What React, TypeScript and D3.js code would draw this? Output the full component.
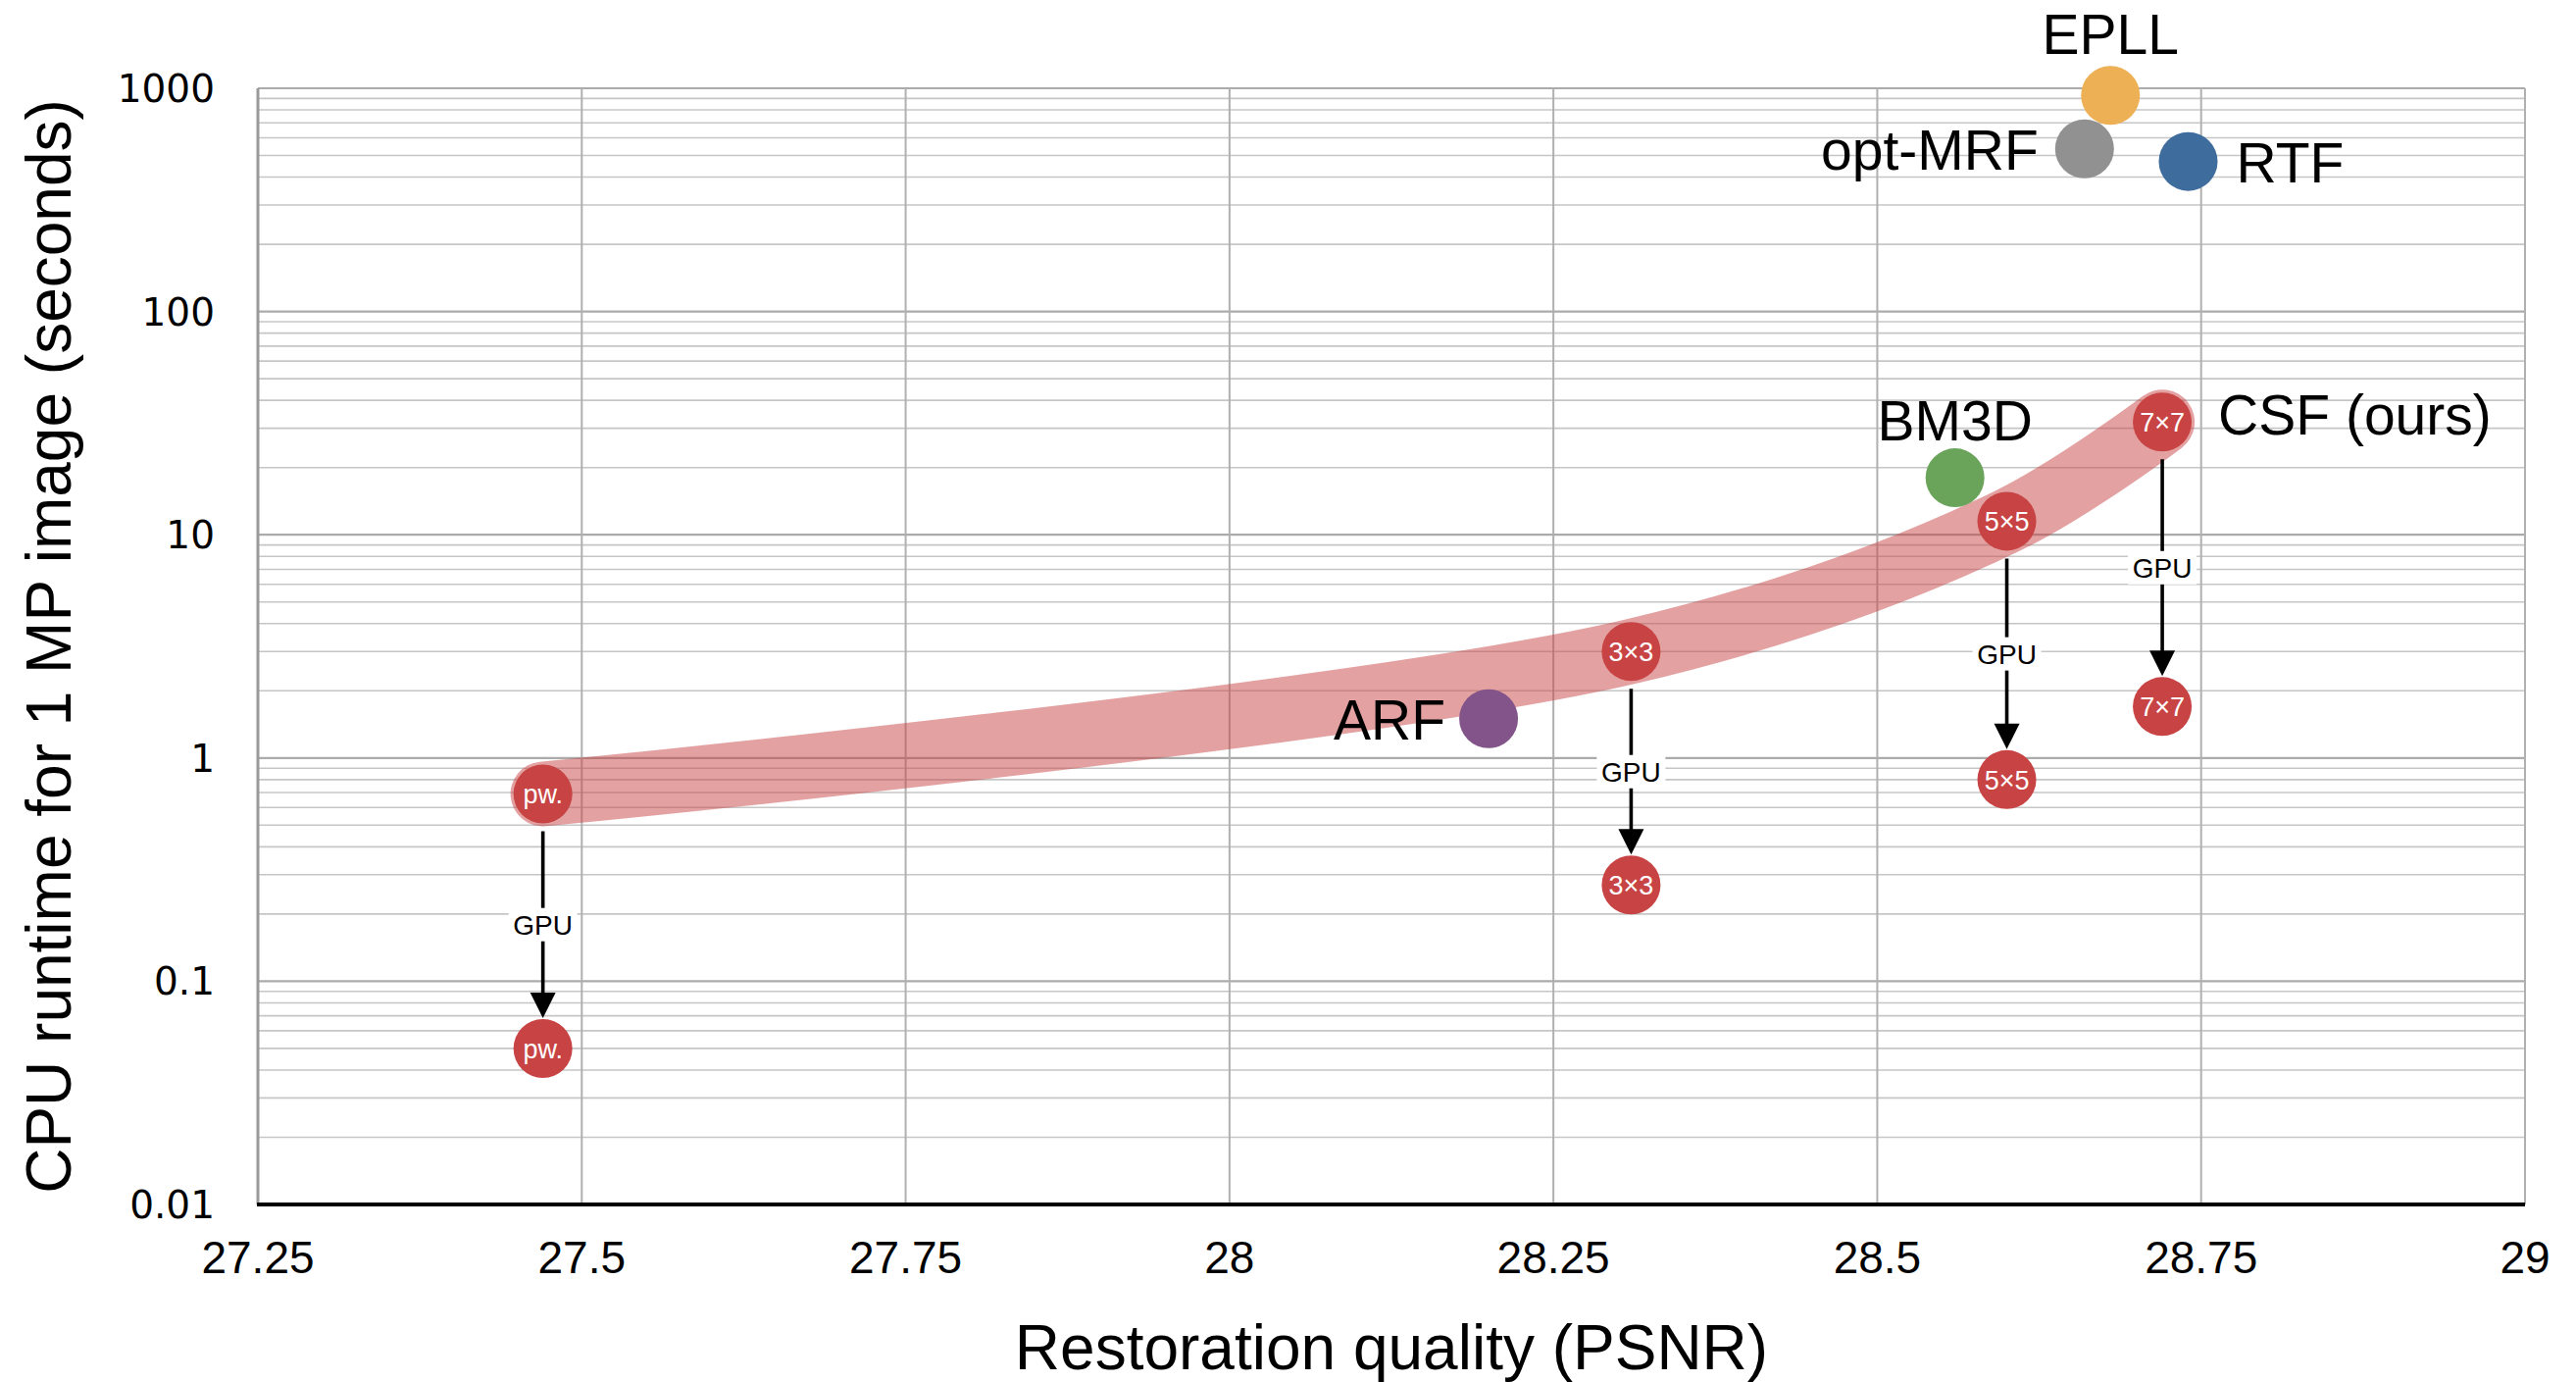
import React, { useEffect } from 'react';
import * as d3 from 'd3';

// axis ticks
const xTicks = [27.25, 27.5, 27.75, 28, 28.25, 28.5, 28.75, 29];
const xTickLabels = ['27.25', '27.5', '27.75', '28', '28.25', '28.5', '28.75', '29'];
const yTicks = [0.01, 0.1, 1, 10, 100, 1000];
const yTickLabels = ['0.01', '0.1', '1', '10', '100', '1000'];

// other methods (PSNR, CPU seconds)
const methods = ['EPLL', 'opt-MRF', 'RTF', 'BM3D', 'ARF'];
const methodPsnr = [28.68, 28.66, 28.74, 28.56, 28.2];
const methodRuntime = [930, 535, 470, 18, 1.5];

// CSF variants: CPU runtime and GPU runtime
const csfLabels = ['pw.', '3×3', '5×5', '7×7'];
const csfPsnr = [27.47, 28.31, 28.6, 28.72];
const csfCpu = [0.69, 3.0, 11.5, 32];
const csfGpu = [0.05, 0.27, 0.8, 1.7];

const methodColor: Record<string, string> = {
  EPLL: '#EDB055',
  'opt-MRF': '#919191',
  RTF: '#3E6C9C',
  BM3D: '#6AA35A',
  ARF: '#835489',
};

// where each method's name sits relative to its dot
const labelPlace: Record<string, { anchor: string; dx: number; dy: number }> = {
  EPLL: { anchor: 'middle', dx: 0, dy: -42 },
  'opt-MRF': { anchor: 'end', dx: -47, dy: 21 },
  RTF: { anchor: 'start', dx: 49, dy: 21 },
  BM3D: { anchor: 'middle', dx: 0, dy: -38 },
  ARF: { anchor: 'end', dx: -44, dy: 21 },
};

const RED = '#C84343';
const FONT = "'Liberation Sans', Arial, Helvetica, sans-serif";

export default function App() {
  useEffect(() => {
    document.body.style.margin = '0';
    document.body.style.overflow = 'hidden';
  }, []);

  const width = 2627;
  const height = 1409;
  const margin = { top: 90, right: 52, bottom: 181, left: 263 };
  const r = 30;

  const x = d3
    .scaleLinear()
    .domain([27.25, 29])
    .range([margin.left, width - margin.right]);

  const y = d3
    .scaleLog()
    .domain([0.01, 1000])
    .range([height - margin.bottom, margin.top]);

  const minorTicks = y.ticks().filter((t) => !yTicks.some((m) => Math.abs(m - t) / m < 1e-6));

  // the shaded band running through the CPU versions of CSF
  const band = d3
    .line<number>()
    .x((_, i) => x(csfPsnr[i]))
    .y((d) => y(d))
    .curve(d3.curveCatmullRom.alpha(0.5))(csfCpu);

  return (
    <svg width={width} height={height} style={{ display: 'block', background: '#fff' }}>
      {/* minor horizontal grid */}
      <g stroke="#c6c6c6" strokeWidth={1.6}>
        {minorTicks.map((t) => (
          <line key={'mn' + t} x1={x(27.25)} x2={x(29)} y1={y(t)} y2={y(t)} />
        ))}
      </g>
      {/* major horizontal grid */}
      <g stroke="#ababab" strokeWidth={2.2}>
        {yTicks.map((t) => (
          <line key={'mj' + t} x1={x(27.25)} x2={x(29)} y1={y(t)} y2={y(t)} />
        ))}
      </g>
      {/* vertical grid */}
      <g stroke="#b0b0b0" strokeWidth={2}>
        {xTicks.map((t) => (
          <line key={'v' + t} x1={x(t)} x2={x(t)} y1={y(1000)} y2={y(0.01)} />
        ))}
      </g>
      <line x1={x(27.25)} x2={x(27.25)} y1={y(1000)} y2={y(0.01)} stroke="#9a9a9a" strokeWidth={3} />
      <line x1={x(27.25) - 1} x2={x(29)} y1={y(0.01)} y2={y(0.01)} stroke="#000" strokeWidth={4} />

      {/* tick labels */}
      <g fontFamily={FONT} fontSize={46} fill="#000" textAnchor="middle">
        {xTicks.map((t, i) => (
          <text key={'xl' + t} x={x(t)} y={y(0.01) + 70}>
            {xTickLabels[i]}
          </text>
        ))}
      </g>
      <g fontFamily="'DejaVu Sans', Verdana, sans-serif" fontSize={39} fill="#000" textAnchor="end">
        {yTicks.map((t, i) => (
          <text key={'yl' + t} x={219} y={y(t)} dy="0.36em">
            {yTickLabels[i]}
          </text>
        ))}
      </g>

      {/* axis titles */}
      <text
        x={(x(27.25) + x(29)) / 2}
        y={1396}
        textAnchor="middle"
        fontFamily={FONT}
        fontSize={64}
        fill="#000"
      >
        Restoration quality (PSNR)
      </text>
      <text
        transform={`translate(72,${(y(1000) + y(0.01)) / 2}) rotate(-90)`}
        textAnchor="middle"
        fontFamily={FONT}
        fontSize={64}
        fill="#000"
      >
        CPU runtime for 1 MP image (seconds)
      </text>

      {/* CSF band */}
      <path
        d={band || ''}
        fill="none"
        stroke={RED}
        strokeOpacity={0.5}
        strokeWidth={66}
        strokeLinecap="round"
        strokeLinejoin="round"
      />

      {/* GPU arrows */}
      {csfLabels.map((lab, i) => {
        const cx = x(csfPsnr[i]);
        const y0 = y(csfCpu[i]) + r + 8;
        const tip = y(csfGpu[i]) - r - 1;
        const head = 26;
        const mid = (y0 + tip) / 2;
        return (
          <g key={'arr' + lab}>
            <line x1={cx} x2={cx} y1={y0} y2={tip - head + 2} stroke="#000" strokeWidth={3.6} />
            <path
              d={`M${cx - 13},${tip - head} L${cx + 13},${tip - head} L${cx},${tip} Z`}
              fill="#000"
            />
            <rect x={cx - 35} y={mid - 17} width={70} height={34} fill="#fff" />
            <text
              x={cx}
              y={mid}
              dy="0.36em"
              textAnchor="middle"
              fontFamily={FONT}
              fontSize={28}
              fill="#000"
            >
              GPU
            </text>
          </g>
        );
      })}

      {/* CSF dots */}
      {csfLabels.map((lab, i) => (
        <g key={'csf' + lab} fontFamily={FONT} fontSize={27} fill="#fff" textAnchor="middle">
          <circle cx={x(csfPsnr[i])} cy={y(csfCpu[i])} r={r} fill={RED} />
          <text x={x(csfPsnr[i])} y={y(csfCpu[i])} dy="0.36em">
            {lab}
          </text>
          <circle cx={x(csfPsnr[i])} cy={y(csfGpu[i])} r={r} fill={RED} />
          <text x={x(csfPsnr[i])} y={y(csfGpu[i])} dy="0.36em">
            {lab}
          </text>
        </g>
      ))}
      <text
        x={x(csfPsnr[3]) + 57}
        y={y(csfCpu[3]) + 13}
        fontFamily={FONT}
        fontSize={57}
        fill="#000"
      >
        CSF (ours)
      </text>

      {/* other methods */}
      {methods.map((m, i) => {
        const cx = x(methodPsnr[i]);
        const cy = y(methodRuntime[i]);
        const p = labelPlace[m];
        return (
          <g key={m}>
            <circle cx={cx} cy={cy} r={r} fill={methodColor[m]} />
            <text
              x={cx + p.dx}
              y={cy + p.dy}
              textAnchor={p.anchor}
              fontFamily={FONT}
              fontSize={57}
              fill="#000"
            >
              {m}
            </text>
          </g>
        );
      })}
    </svg>
  );
}
